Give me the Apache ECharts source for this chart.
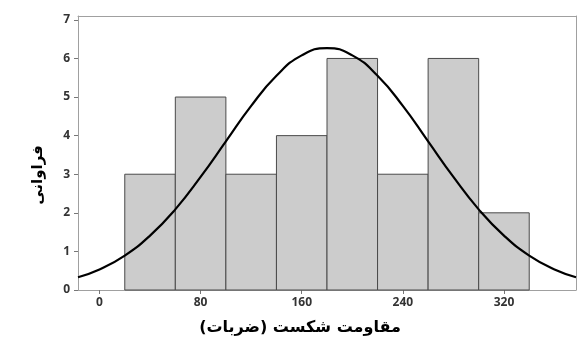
<!DOCTYPE html>
<html><head><meta charset="utf-8">
<script src="https://cdn.jsdelivr.net/npm/echarts@6/dist/echarts.min.js"></script>
<style>html,body{margin:0;padding:0;background:#fff}#c{width:577px;height:344px}</style>
</head><body><div id="c"></div>
<script>
// Histogram bins (lower edge, upper edge) and frequencies
const binStarts = [20, 60, 100, 140, 180, 220, 260, 300];
const binEnds   = [60, 100, 140, 180, 220, 260, 300, 340];
const frequencies = [3, 5, 3, 4, 6, 3, 6, 2];
// Fitted curve
const curveX = [-17, 0, 20, 40, 60, 80, 100, 120, 140, 160, 180, 200, 220, 240, 260, 280, 300, 320, 340, 360, 377];
const curveY = [0.33, 0.53, 0.89, 1.41, 2.09, 2.93, 3.85, 4.77, 5.55, 6.08, 6.27, 6.08, 5.55, 4.77, 3.85, 2.93, 2.09, 1.41, 0.89, 0.53, 0.33];
const xTicks = [0, 80, 160, 240, 320];
const yTicks = [0, 1, 2, 3, 4, 5, 6, 7];
const xTitle = 'مقاومت شکست (ضربات)';
const yTitle = 'فراوانی';

const histData = binStarts.map((s, i) => [s, binEnds[i], frequencies[i]]);
const lineData = curveX.map((x, i) => [x, curveY[i]]);

const chart = echarts.init(document.getElementById('c'), null, {renderer: 'canvas'});
const labelStyle = {color: '#333', fontSize: 12, fontWeight: 'bold', fontFamily: 'Open Sans'};
const frameLine = {show: true, lineStyle: {color: '#a0a0a0', width: 1}};
chart.setOption({
  animation: false,
  grid: {left: 78, top: 16, right: 1, bottom: 54},
  xAxis: [{
    type: 'value', min: -17, max: 377, position: 'bottom',
    axisLine: Object.assign({onZero: false}, frameLine),
    splitLine: {show: false},
    axisTick: {show: true, customValues: xTicks, length: 4, lineStyle: {color: '#777'}},
    axisLabel: Object.assign({customValues: xTicks, margin: 7}, labelStyle)
  }, {
    type: 'value', min: -17, max: 377, position: 'top',
    axisLine: Object.assign({onZero: false}, frameLine),
    splitLine: {show: false}, axisTick: {show: false}, axisLabel: {show: false}
  }],
  yAxis: [{
    type: 'value', min: 0, max: 7.1, position: 'left',
    axisLine: Object.assign({onZero: false}, frameLine),
    splitLine: {show: false},
    axisTick: {show: true, customValues: yTicks, length: 4, lineStyle: {color: '#777'}},
    axisLabel: Object.assign({customValues: yTicks, margin: 8}, labelStyle)
  }, {
    type: 'value', min: 0, max: 7.1, position: 'right',
    axisLine: Object.assign({onZero: false}, frameLine),
    splitLine: {show: false}, axisTick: {show: false}, axisLabel: {show: false}
  }],
  series: [
    {
      type: 'custom',
      data: histData,
      renderItem: function (params, api) {
        const p0 = api.coord([api.value(0), api.value(2)]);
        const p1 = api.coord([api.value(1), 0]);
        return {
          type: 'rect',
          shape: {x: p0[0], y: p0[1], width: p1[0] - p0[0], height: p1[1] - p0[1]},
          style: {fill: '#cccccc', stroke: '#4a4a4a', lineWidth: 1}
        };
      },
      encode: {x: [0, 1], y: 2},
      z: 2
    },
    {
      type: 'line',
      data: lineData,
      smooth: true,
      symbol: 'none',
      lineStyle: {color: '#000', width: 2.2},
      z: 3
    }
  ],
  graphic: [
    {type: 'text', x: 300, y: 328, style: {text: xTitle, fontSize: 16, fontWeight: 'bold', fontFamily: 'DejaVu Sans', fill: '#000', align: 'center', verticalAlign: 'middle'}},
    {type: 'text', x: 38, y: 175, rotation: Math.PI / 2, style: {text: yTitle, fontSize: 15, fontWeight: 'bold', fontFamily: 'DejaVu Sans', fill: '#000', align: 'center', verticalAlign: 'middle'}}
  ]
});
</script></body></html>
